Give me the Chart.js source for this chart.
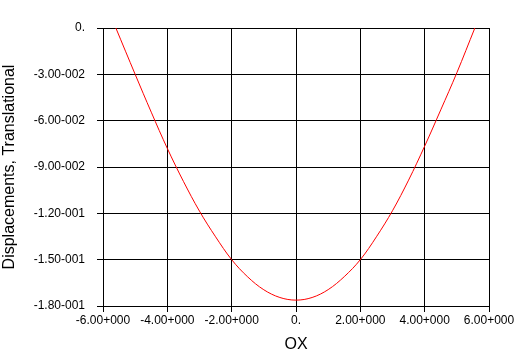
<!DOCTYPE html>
<html>
<head>
<meta charset="utf-8">
<script src="https://cdn.jsdelivr.net/npm/chart.js@4"></script>
<style>
  body { margin: 0; background: #fff; }
  #wrap { width: 529px; height: 354px; }
</style>
</head>
<body>
<div id="wrap"><canvas id="chart" width="529" height="354"></canvas></div>
<script>
// values
const xValues = [-5.6, -5.0, -4.5, -4.0, -3.5, -3.0, -2.5, -2.0, -1.5, -1.0, -0.5, 0,
                 0.5, 1.0, 1.5, 2.0, 2.5, 3.0, 3.5, 4.0, 4.5, 5.0, 5.56];
const yValues = [0, -0.030, -0.0545, -0.078, -0.0993, -0.1186, -0.1352, -0.150, -0.1612, -0.1695, -0.1745, -0.1762,
                 -0.1745, -0.1694, -0.161, -0.150, -0.1352, -0.1183, -0.0985, -0.0765, -0.053, -0.029, 0];
const xTicks = [-6, -4, -2, 0, 2, 4, 6];
const yTicks = [-0.18, -0.15, -0.12, -0.09, -0.06, -0.03, 0];

// fortran-ish number labels: -3.00-002, 6.00+000, 0.
function fmt(v) {
    if (Math.abs(v) < 1e-12) return '0.';
    let e = Math.floor(Math.log10(Math.abs(v)) + 1e-9);
    let m = v / Math.pow(10, e);
    if (Math.abs(m) >= 9.995) { m /= 10; e++; }
    return m.toFixed(2) + (e < 0 ? '-' : '+') + String(Math.abs(e)).padStart(3, '0');
}

const points = xValues.map((x, i) => ({ x: x, y: yValues[i] }));
const font = { family: "'Liberation Sans', Arial, sans-serif", size: 12 };

new Chart(document.getElementById('chart').getContext('2d'), {
    type: 'scatter',
    data: {
        datasets: [{
            data: points,
            showLine: true,
            borderColor: 'rgb(255, 0, 0)',
            borderWidth: 1,
            pointRadius: 0,
            tension: 0.35
        }]
    },
    options: {
        responsive: false,
        animation: false,
        layout: { padding: { top: 28, right: 40, left: 0, bottom: 0 } },
        plugins: { legend: { display: false }, tooltip: { enabled: false } },
        scales: {
            x: {
                type: 'linear',
                min: -6,
                max: 6,
                afterBuildTicks: s => { s.ticks = xTicks.map(v => ({ value: v })); },
                afterFit: s => { s.height = 48; },
                grid: { color: '#000', lineWidth: 1, tickLength: 6 },
                border: { color: '#000', width: 1 },
                ticks: { color: '#000', font: font, padding: 1, maxRotation: 0, callback: v => fmt(v) },
                title: {
                    display: true, text: 'OX', color: '#000',
                    font: { family: font.family, size: 16 }, padding: { top: 2, bottom: 0 }
                }
            },
            y: {
                type: 'linear',
                min: -0.18,
                max: 0,
                afterBuildTicks: s => { s.ticks = yTicks.map(v => ({ value: v })); },
                afterFit: s => { s.width = 103; },
                grid: { color: '#000', lineWidth: 1, tickLength: 6 },
                border: { color: '#000', width: 1 },
                ticks: { color: '#000', font: font, padding: 12, callback: v => fmt(v) },
                title: {
                    display: true, text: 'Displacements, Translational', color: '#000',
                    font: { family: font.family, size: 16 }, padding: { top: 0, bottom: 0 }
                }
            }
        }
    }
});
</script>
</body>
</html>
